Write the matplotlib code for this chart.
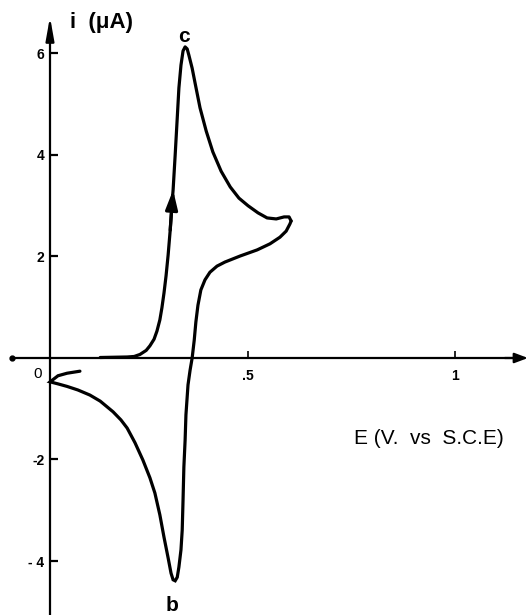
import matplotlib
matplotlib.use("Agg")
import matplotlib.pyplot as plt

plt.rcParams['font.family'] = ['Liberation Sans', 'DejaVu Sans']

# ---- data (E in V vs SCE, i in microampere) ----
# forward (anodic) scan, up to the switching potential
E_fwd = [0.143, 0.208, 0.225, 0.239, 0.254, 0.263, 0.273, 0.280, 0.287, 0.292,
         0.297, 0.302, 0.307, 0.312, 0.316, 0.319, 0.324, 0.329, 0.333, 0.338,
         0.343, 0.348, 0.353, 0.357, 0.365, 0.372, 0.384, 0.399, 0.415, 0.435,
         0.457, 0.478, 0.500, 0.524, 0.546, 0.568, 0.587, 0.599, 0.604]
i_fwd = [0.01, 0.02, 0.03, 0.07, 0.15, 0.24, 0.37, 0.53, 0.75, 0.99,
         1.28, 1.62, 2.03, 2.52, 3.01, 3.31, 4.00, 4.73, 5.32, 5.77,
         6.05, 6.13, 6.09, 5.97, 5.71, 5.42, 4.93, 4.47, 4.06, 3.68,
         3.37, 3.15, 3.00, 2.86, 2.76, 2.74, 2.78, 2.78, 2.70]
# reverse (cathodic) scan back to 0 V
E_rev = [0.604, 0.601, 0.592, 0.577, 0.553, 0.522, 0.481, 0.444, 0.425, 0.408,
         0.396, 0.386, 0.379, 0.374, 0.370, 0.365, 0.360, 0.355, 0.350, 0.348,
         0.345, 0.343, 0.341, 0.338, 0.333, 0.329, 0.324, 0.319, 0.314, 0.307,
         0.297, 0.287, 0.275, 0.263, 0.246, 0.227, 0.208, 0.193, 0.174, 0.143,
         0.118, 0.089, 0.063, 0.041, 0.022]
i_rev = [2.70, 2.64, 2.50, 2.38, 2.25, 2.13, 2.01, 1.89, 1.81, 1.69,
         1.54, 1.34, 1.04, 0.71, 0.35, 0.00, -0.24, -0.53, -1.12, -1.62,
         -2.15, -2.80, -3.39, -3.78, -4.12, -4.32, -4.39, -4.37, -4.24, -3.94,
         -3.53, -3.09, -2.66, -2.36, -2.01, -1.67, -1.38, -1.22, -1.06, -0.85,
         -0.73, -0.63, -0.56, -0.51, -0.47]
# small hook at the start potential
E_hook = [0.022, 0.041, 0.063, 0.094]
i_hook = [-0.47, -0.35, -0.30, -0.26]

y_ticks = [-4, -2, 2, 4, 6]
y_tick_labels = ['- 4', '-2', '2', '4', '6']
x_ticks = [0.5, 1.0]
x_tick_labels = ['.5', '1']
E_axis = 0.0217          # position of the drawn current axis
peak_labels = {'c': (0.345, 6.34), 'b': (0.316, -4.87)}
arrow_idx = 15           # point of the anodic branch where the direction arrow sits

# ---- figure ----
fig = plt.figure(figsize=(5.28, 6.15), dpi=100)
ax = fig.add_axes([0, 0, 1, 1])
ax.set_xlim(-0.099, 1.176)
ax.set_ylim(-5.064, 7.054)
ax.patch.set_visible(False)

lw = 2.3
ax.plot(E_fwd, i_fwd, color='black', lw=lw, solid_capstyle='round', solid_joinstyle='round')
ax.plot(E_rev + E_hook[1:], i_rev + i_hook[1:], color='black', lw=lw,
        solid_capstyle='round', solid_joinstyle='miter')

# direction arrow on the anodic branch
ax.annotate('', xy=(E_fwd[arrow_idx], i_fwd[arrow_idx]),
            xytext=(E_fwd[arrow_idx - 2], i_fwd[arrow_idx - 2]),
            arrowprops=dict(arrowstyle='-|>,head_length=1.15,head_width=0.36',
                            color='black', lw=lw, shrinkA=0, shrinkB=0))

# axes
for s in ['top', 'right']:
    ax.spines[s].set_visible(False)
ax.spines['left'].set_position(('data', E_axis))
ax.spines['bottom'].set_position(('data', 0))
ax.spines['left'].set_bounds(-5.1, 6.55)
ax.spines['bottom'].set_bounds(-0.07, 1.15)
ax.spines['left'].set_linewidth(1.6)
ax.spines['bottom'].set_linewidth(1.6)

ax.annotate('', xy=(E_axis, 6.72), xytext=(E_axis, 6.3),
            arrowprops=dict(arrowstyle='-|>,head_length=1.4,head_width=0.25',
                            color='black', lw=1.6, shrinkA=0, shrinkB=0))
ax.annotate('', xy=(1.176, 0), xytext=(1.12, 0),
            arrowprops=dict(arrowstyle='-|>,head_length=0.8,head_width=0.3',
                            color='black', lw=1.6, shrinkA=0, shrinkB=0))
ax.plot([-0.07], [0], 'o', color='black', ms=3.5)

ax.set_yticks(y_ticks, labels=y_tick_labels)
ax.set_xticks(x_ticks, labels=x_tick_labels)
ax.tick_params(axis='y', direction='in', length=5.8, width=1.6, pad=4, labelsize=10)
ax.tick_params(axis='x', direction='in', length=5, width=1.2, pad=8, labelsize=10)
for t in ax.get_yticklabels() + ax.get_xticklabels():
    t.set_fontweight('bold')

ax.text(-0.007, -0.32, '0', fontsize=11, ha='center', va='center')
ax.text(0.147, 6.62, 'i  (μA)', fontsize=16, fontweight='bold', ha='center', va='center')
ax.text(0.937, -1.58, 'E (V.  vs  S.C.E)', fontsize=15, ha='center', va='center')
for lab, (ex, iy) in peak_labels.items():
    ax.text(ex, iy, lab, fontsize=15, fontweight='bold', ha='center', va='center')

fig.savefig('out.png', dpi=100)
